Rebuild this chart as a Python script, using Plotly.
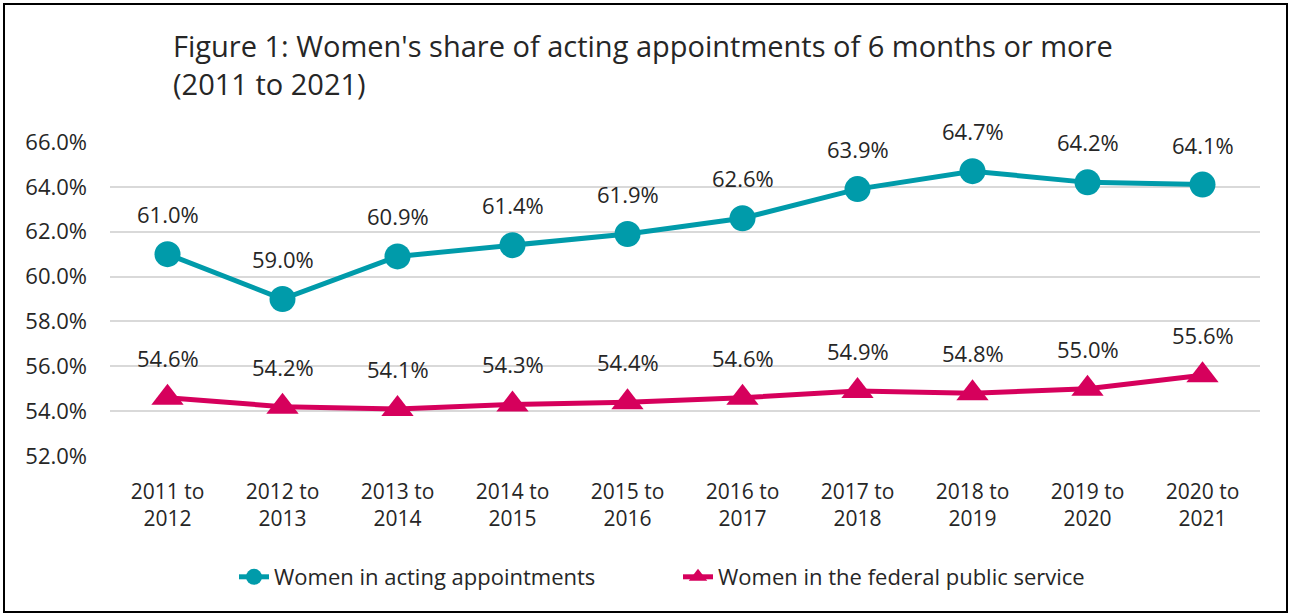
import plotly.graph_objects as go

categories = ["2011 to<br>2012", "2012 to<br>2013", "2013 to<br>2014", "2014 to<br>2015",
              "2015 to<br>2016", "2016 to<br>2017", "2017 to<br>2018", "2018 to<br>2019",
              "2019 to<br>2020", "2020 to<br>2021"]
acting = [61.0, 59.0, 60.9, 61.4, 61.9, 62.6, 63.9, 64.7, 64.2, 64.1]
fps = [54.6, 54.2, 54.1, 54.3, 54.4, 54.6, 54.9, 54.8, 55.0, 55.6]
y_ticks = [52, 54, 56, 58, 60, 62, 64, 66]

TEAL = "#009BAA"
PINK = "#D6005C"
FONT = "Open Sans"
TXT = "#262626"

fig = go.Figure()
fig.add_trace(go.Scatter(
    x=categories, y=acting, name="Women in acting appointments",
    mode="lines+markers",
    line=dict(color=TEAL, width=5),
    marker=dict(symbol="circle", size=26, color=TEAL),
    cliponaxis=False, legend="legend",
))
fig.add_trace(go.Scatter(
    x=categories, y=fps, name="Women in the federal public service",
    mode="lines+markers",
    line=dict(color=PINK, width=5),
    marker=dict(symbol="triangle-up", size=28, color=PINK),
    cliponaxis=False, legend="legend2",
))

for series in (acting, fps):
    for c, v in zip(categories, series):
        fig.add_annotation(x=c, y=v, text=f"{v:.1f}%", showarrow=False,
                           xanchor="center", yanchor="middle", yshift=40,
                           font=dict(size=22, family=FONT, color=TXT))

W, H = 1291, 616
L, R, T, B = 110, 31, 142, 160
pw, ph = W - L - R, H - T - B

def px_x(x):
    return (x - L) / pw

def px_y(y):
    return (H - B - y) / ph

fig.add_shape(type="rect", xref="paper", yref="paper",
              x0=px_x(4), x1=px_x(1287), y0=px_y(612), y1=px_y(4),
              line=dict(color="#000000", width=2), fillcolor="rgba(0,0,0,0)", layer="below")

leg_common = dict(orientation="h", xanchor="left", y=px_y(577), yanchor="middle",
                  font=dict(size=22, family=FONT, color=TXT), bgcolor="rgba(0,0,0,0)")

fig.update_layout(
    width=W, height=H,
    margin=dict(l=L, r=R, t=T, b=B),
    paper_bgcolor="white", plot_bgcolor="white",
    font=dict(family=FONT, color=TXT),
    title=dict(text="Figure 1: Women's share of acting appointments of 6 months or more<br>(2011 to 2021)",
               x=173 / W, xanchor="left", y=1 - 57 / H, yanchor="top",
               font=dict(size=29, family=FONT, color=TXT)),
    xaxis=dict(type="category", range=[-0.5, 9.5], showgrid=False, showline=False, ticks="",
               tickfont=dict(size=21, family=FONT, color=TXT), ticklabelstandoff=21),
    yaxis=dict(range=[52, 66], tickvals=y_ticks,
               ticktext=[f"{v:.1f}%" for v in y_ticks],
               showgrid=True, gridcolor="#D9D9D9", gridwidth=1.5, zeroline=False,
               showline=False, ticks="",
               tickfont=dict(size=22, family=FONT, color=TXT), ticklabelstandoff=22),
    showlegend=True,
    legend=dict(x=px_x(234), **leg_common),
    legend2=dict(x=px_x(678), **leg_common),
)

fig.write_html("out.html", config={"displayModeBar": False},
               post_script="document.body.style.margin='0';")
